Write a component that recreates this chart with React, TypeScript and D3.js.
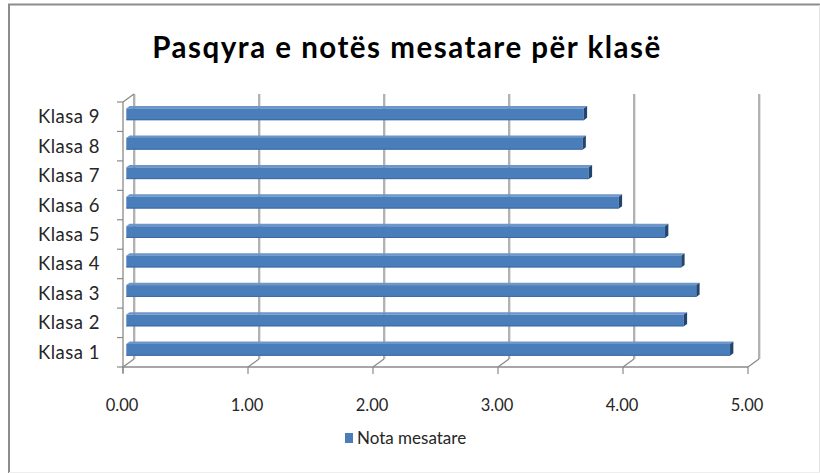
import React from "react";
import * as d3 from "d3";

const categories = ["Klasa 1", "Klasa 2", "Klasa 3", "Klasa 4", "Klasa 5", "Klasa 6", "Klasa 7", "Klasa 8", "Klasa 9"];
const values = [4.83, 4.46, 4.56, 4.44, 4.31, 3.94, 3.7, 3.65, 3.66];
const xTicks = [0, 1, 2, 3, 4, 5];
const title = "Pasqyra e notës mesatare për klasë";
const seriesName = "Nota mesatare";

const FONT = "Lato, 'Open Sans', sans-serif";

export default function App() {
  const W = 820, H = 473;
  const x = d3.scaleLinear().domain([0, 5]).range([123, 748]);
  // front plane category band (Klasa 1 at bottom)
  const y = d3.scaleBand<string>().domain([...categories].reverse()).range([102, 367]).paddingInner(0).paddingOuter(0);
  const DX = 11, DY = -8; // depth offset
  const d1 = 0.3, d2 = 0.6; // bar depth fractions
  const bw = y.bandwidth();
  const bh = bw / 2.5;
  const yBottom = 367, yTop = 102;

  const gridColor = "#8a8a8a";

  return (
    <svg width={W} height={H} style={{ position: "absolute", left: 0, top: 0, background: "#fff" }}>
      {/* frame */}
      <rect x={0} y={0} width={W} height={H} fill="#fff" />
      <line x1={8} y1={4.5} x2={W} y2={4.5} stroke="#8c8c8c" strokeWidth={2} />
      <line x1={9} y1={4} x2={9} y2={H} stroke="#8c8c8c" strokeWidth={2} />
      <line x1={819.5} y1={5} x2={819.5} y2={H} stroke="#e4e4e4" strokeWidth={1} />
      <line x1={9} y1={472.5} x2={W} y2={472.5} stroke="#eeeeee" strokeWidth={1} />

      {/* title */}
      <text x={407} y={58} textAnchor="middle" fontFamily={FONT} fontWeight={700} fontSize={29.5} letterSpacing={1.5} fill="#000">{title}</text>

      {/* back wall gridlines */}
      {xTicks.map((t) => (
        <g key={"g" + t}>
          <line x1={x(t) + DX + 1.3} y1={yTop + DY} x2={x(t) + DX + 1.3} y2={yBottom + DY} stroke="#dcdcdc" strokeWidth={1} />
          <line x1={x(t) + DX} y1={yTop + DY} x2={x(t) + DX} y2={yBottom + DY} stroke={gridColor} strokeWidth={1.3} />
        </g>
      ))}
      {/* left wall top diagonal */}
      <line x1={x(0)} y1={yTop} x2={x(0) + DX} y2={yTop + DY} stroke={gridColor} strokeWidth={1.3} />

      {/* floor diagonals */}
      {xTicks.map((t) => (
        <line key={"fd" + t} x1={x(t)} y1={yBottom} x2={x(t) + DX} y2={yBottom + DY} stroke={gridColor} strokeWidth={1.2} />
      ))}

      {/* bars */}
      {categories.map((c, i) => {
        const v = values[i];
        const yc = (y(c) as number) + bw / 2;
        const x0 = x(0), x1 = x(v);
        const ox1 = DX * d1, oy1 = DY * d1, ox2 = DX * d2, oy2 = DY * d2;
        const top = yc - bh / 2, bot = yc + bh / 2;
        return (
          <g key={c}>
            <polygon
              points={`${x0 + ox1},${top + oy1} ${x1 + ox1},${top + oy1} ${x1 + ox2},${top + oy2} ${x0 + ox2},${top + oy2}`}
              fill="#6d96c9" />
            <rect x={x0 + ox1} y={top + oy1} width={x1 - x0} height={bh} fill="#4a7ebb" />
            <line x1={x0 + ox1} y1={bot + oy1 - 0.5} x2={x1 + ox1} y2={bot + oy1 - 0.5} stroke="#3d6aa0" strokeWidth={1} />
            <polygon
              points={`${x1 + ox1},${top + oy1} ${x1 + ox2},${top + oy2} ${x1 + ox2},${bot + oy2} ${x1 + ox1},${bot + oy1}`}
              fill="#23446f" />
          </g>
        );
      })}

      {/* left front axis */}
      <line x1={x(0)} y1={yTop} x2={x(0)} y2={yBottom + 6} stroke={gridColor} strokeWidth={1.3} />
      {[...y.domain().map((c) => y(c) as number), yBottom].map((yy, k) => (
        <line key={"lt" + k} x1={x(0) - 6} y1={yy} x2={x(0)} y2={yy} stroke={gridColor} strokeWidth={1.2} />
      ))}
      {/* bottom front axis */}
      <line x1={x(0) - 1} y1={yBottom} x2={x(5)} y2={yBottom} stroke={gridColor} strokeWidth={1.3} />
      {xTicks.map((t) => (
        <line key={"bt" + t} x1={x(t)} y1={yBottom} x2={x(t)} y2={yBottom + 7} stroke={gridColor} strokeWidth={1.2} />
      ))}

      {/* category labels */}
      {categories.map((c) => (
        <text key={"l" + c} x={100} y={(y(c) as number) + bw / 2} dy="0.35em" textAnchor="end" fontFamily={FONT} fontSize={18.5} letterSpacing={0.5} fill="#262626">{c}</text>
      ))}
      {/* x tick labels */}
      {xTicks.map((t) => (
        <text key={"xl" + t} x={x(t) - 1} y={405} dy="0.35em" textAnchor="middle" fontFamily={FONT} fontSize={16.5} fill="#262626">{t.toFixed(2)}</text>
      ))}

      {/* legend */}
      <rect x={345} y={433} width={8} height={10} fill="#4a7ebb" />
      <text x={357} y={438.5} dy="0.35em" fontFamily={FONT} fontSize={17} fill="#262626">{seriesName}</text>
    </svg>
  );
}
